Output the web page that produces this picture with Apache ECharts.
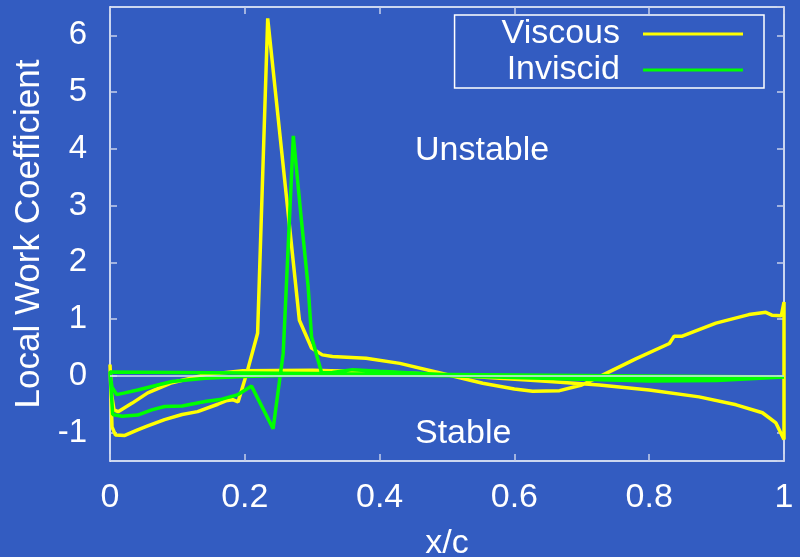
<!DOCTYPE html>
<html>
<head>
<meta charset="utf-8">
<script src="https://cdn.jsdelivr.net/npm/echarts@6/dist/echarts.min.js"></script>
<style>
  html, body { margin: 0; padding: 0; background: #335cc1; }
  #main { width: 800px; height: 557px; }
</style>
</head>
<body>
<div id="main"></div>
<script>
// 粘性解：前缘 -> 吸力面(激波) -> 后缘 -> 压力面 -> 前缘
var viscousX = [0, 0.003, 0.008, 0.022, 0.041, 0.056, 0.081, 0.107, 0.13, 0.16, 0.172, 0.182, 0.19,
  0.203, 0.219, 0.234, 0.281, 0.299, 0.315, 0.33, 0.38, 0.43, 0.49, 0.553, 0.6, 0.627, 0.667, 0.70,
  0.73, 0.78, 0.83, 0.837, 0.849, 0.899, 0.948, 0.973, 0.982, 0.996, 1.0, 1.0,
  0.988, 0.968, 0.929, 0.874, 0.80, 0.726, 0.652, 0.578, 0.5, 0.4, 0.3, 0.197, 0.141, 0.092, 0.056,
  0.033, 0.012, 0.006, 0.002, 0];
var viscousY = [0.2, -0.9, -1.04, -1.05, -0.95, -0.88, -0.77, -0.68, -0.63, -0.5, -0.44, -0.42, -0.46,
  0.05, 0.75, 6.3, 0.98, 0.49, 0.37, 0.34, 0.31, 0.22, 0.05, -0.13, -0.23, -0.27, -0.26, -0.16,
  0.01, 0.3, 0.57, 0.7, 0.7, 0.93, 1.08, 1.12, 1.07, 1.06, 1.3, -1.12,
  -0.83, -0.65, -0.51, -0.37, -0.25, -0.16, -0.1, -0.04, 0.02, 0.07, 0.1, 0.09, 0.02, -0.12, -0.3,
  -0.48, -0.63, -0.6, -0.3, 0.2];

// 无粘解
var inviscidX = [1.0, 0, 0.004, 0.018, 0.041, 0.062, 0.081, 0.107, 0.141, 0.166, 0.19, 0.21, 0.242,
  0.257, 0.272, 0.284, 0.294, 0.299, 0.314, 0.33, 0.36, 0.4, 0.5, 0.6, 0.7, 0.8, 0.9, 1.0,
  0.9, 0.8, 0.7, 0.6, 0.5, 0.4, 0.3, 0.197, 0.141, 0.092, 0.041, 0.022, 0.01, 0.003, 0];
var inviscidY = [-0.02, 0.07, -0.68, -0.71, -0.69, -0.6, -0.54, -0.53, -0.45, -0.41, -0.33, -0.18, -0.93,
  0.4, 4.23, 2.74, 1.57, 0.69, 0.05, 0.06, 0.11, 0.08, 0.02, -0.03, -0.05, -0.06, -0.05, -0.02,
  -0.08, -0.09, -0.06, -0.03, 0.0, 0.02, 0.02, -0.01, -0.04, -0.1, -0.25, -0.3, -0.33, -0.2, 0.05];

var xTicks = [0, 0.2, 0.4, 0.6, 0.8, 1];
var seriesNames = ['Viscous', 'Inviscid'];
var seriesColors = ['#ffff00', '#00ff00'];

function pairs(xs, ys) {
  return xs.map(function (x, i) { return [x, ys[i]]; });
}

var FONT = 'Liberation Sans';
var bg = '#335cc1';
var tickColor = '#c8cfea';

var myChart = echarts.init(document.getElementById('main'));

var axisCommon = {
  axisLine: { show: true, onZero: false, lineStyle: { color: '#ffffff', width: 1.5 } },
  axisTick: { show: true, inside: true, length: 7, lineStyle: { color: tickColor, width: 1.5 } },
  splitLine: { show: false }
};

myChart.setOption({
  backgroundColor: bg,
  animation: false,
  grid: { left: 110, right: 16, top: 7, bottom: 96, outerBoundsMode: 'none', containLabel: false },
  legend: {
    data: seriesNames.map(function (n) { return { name: n, icon: 'rect' }; }),
    orient: 'vertical',
    align: 'right',
    right: 36,
    top: 15,
    itemWidth: 100,
    itemHeight: 3,
    itemGap: 2,
    padding: [2, 21, 1, 47],
    borderColor: '#ffffff',
    borderWidth: 1.5,
    backgroundColor: bg,
    textStyle: { color: '#ffffff', fontSize: 34, fontFamily: FONT, lineHeight: 34, padding: [0, 18, 0, 0] }
  },
  xAxis: [
    echarts.util.merge({
      type: 'value', min: 0, max: 1, interval: 0.2, position: 'bottom',
      name: 'x/c', nameLocation: 'middle', nameGap: 66,
      nameTextStyle: { color: '#ffffff', fontSize: 34, fontFamily: FONT },
      axisLabel: { color: '#ffffff', fontSize: 34, fontFamily: FONT, margin: 20,
        formatter: function (v) { return xTicks.indexOf(v) >= 0 ? String(v) : ''; } }
    }, axisCommon, true),
    echarts.util.merge({
      type: 'value', min: 0, max: 1, interval: 0.2, position: 'top',
      axisLabel: { show: false }
    }, axisCommon, true)
  ],
  yAxis: [
    echarts.util.merge({
      type: 'value', min: -1.5, max: 6.5, splitNumber: 8, position: 'left',
      name: 'Local Work Coefficient', nameLocation: 'middle', nameGap: 58,
      nameTextStyle: { color: '#ffffff', fontSize: 35, fontFamily: FONT },
      axisLabel: { color: '#ffffff', fontSize: 33, fontFamily: FONT, margin: 23,
        showMinLabel: false, showMaxLabel: false,
        formatter: function (v) { return Number.isInteger(v) ? String(v) : ''; } }
    }, axisCommon, true),
    echarts.util.merge({
      type: 'value', min: -1.5, max: 6.5, splitNumber: 8, position: 'right',
      axisLabel: { show: false }
    }, axisCommon, true)
  ],
  graphic: [
    { type: 'text', left: 415, top: 134, silent: true,
      style: { text: 'Unstable', fill: '#ffffff', font: '34px "' + FONT + '"' } },
    { type: 'text', left: 415, top: 417, silent: true,
      style: { text: 'Stable', fill: '#ffffff', font: '34px "' + FONT + '"' } }
  ],
  series: [
    {
      name: seriesNames[0],
      type: 'line',
      data: pairs(viscousX, viscousY),
      showSymbol: false,
      symbol: 'none',
      lineStyle: { color: seriesColors[0], width: 3.5 },
      itemStyle: { color: seriesColors[0] },
      markLine: {
        silent: true,
        symbol: 'none',
        label: { show: false },
        lineStyle: { color: '#dde2f2', width: 1.5, type: 'solid' },
        data: [{ yAxis: 0 }]
      },
      z: 2
    },
    {
      name: seriesNames[1],
      type: 'line',
      data: pairs(inviscidX, inviscidY),
      showSymbol: false,
      symbol: 'none',
      lineStyle: { color: seriesColors[1], width: 3.5 },
      itemStyle: { color: seriesColors[1] },
      z: 3
    }
  ]
});
</script>
</body>
</html>
